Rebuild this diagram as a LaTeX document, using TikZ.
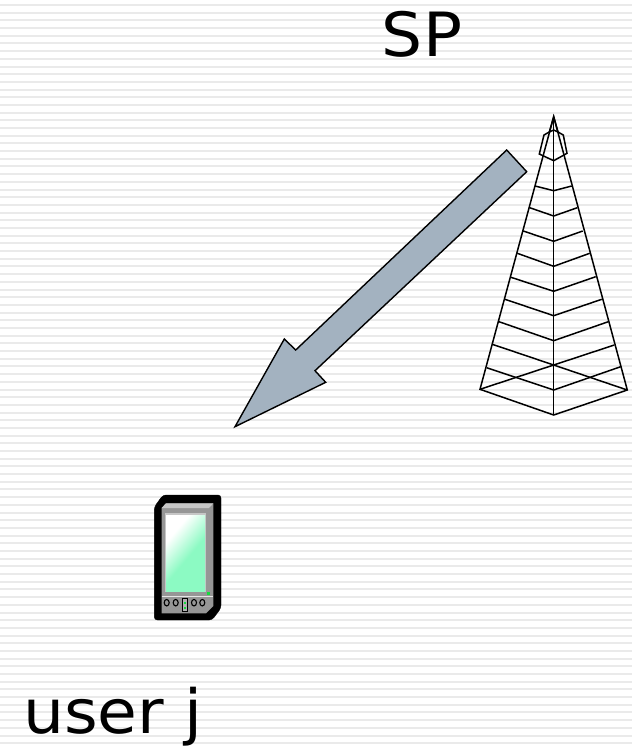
\documentclass[tikz,border=0pt]{standalone}
\usepackage{fontspec}
\setmainfont[FakeStretch=1.06]{DejaVu Sans}
\definecolor{stripecol}{RGB}{234,234,234}
\definecolor{arrowcol}{RGB}{163,178,192}
\definecolor{bodycol}{RGB}{150,150,150}
\definecolor{screencol}{RGB}{140,250,195}
\definecolor{ledcol}{RGB}{20,220,60}
\pgfdeclarehorizontalshading{screenshade}{100bp}{color(0bp)=(white); color(30bp)=(white); color(54bp)=(screencol); color(100bp)=(screencol)}
\tikzset{
  stripe/.style={stripecol, line width=2pt},
  tower/.style={black, line width=1.5pt, line join=miter},
  label/.style={inner sep=0pt, font=\fontsize{61}{61}\selectfont},
  knob/.style={draw=black, line width=1.1pt, fill=bodycol, minimum width=5pt, minimum height=6.5pt, inner sep=0pt, ellipse}
}
\usetikzlibrary{shapes.geometric}
\begin{document}
\begin{tikzpicture}[x=1pt, y=-1pt]
\useasboundingbox (0,0) rectangle (632,748);

% background stripes
\foreach \k in {0,...,96}
  \draw[stripe] (0, 5+7.69*\k) -- (632, 5+7.69*\k);

\node(sp)[label, anchor=base] at (422, 56.5) {SP};
\node(user)[label, anchor=base west] at (23, 733) {user j};

% arrow
\filldraw[fill=arrowcol, draw=black, line width=1.4pt, line join=miter]
  (506.7,150) -- (526.7,171.7) -- (315,370.7) -- (325.7,382.3)
  -- (235,426.7) -- (284.3,339) -- (295.7,350) -- cycle;

% tower
\coordinate(apex) at (553.7,116.7);
\coordinate(baseL) at (480,389.3);
\coordinate(baseR) at (627.3,390);
\coordinate(baseF) at (553.7,415);
\coordinate(back) at (553.7,365);
\draw[tower] (baseL) -- (apex) -- (baseR) -- (baseF) -- cycle;
\draw[tower] (apex) -- (baseF);
\draw[tower] (baseL) -- (back) -- (614.3,345);
\draw[tower] (baseR) -- (back) -- (492.3,344.3);
\draw[tower] (486.7,367.7) -- (553.7,390) -- (620.7,366.7);
\draw[tower] (499,321.7) -- (553.7,340.7) -- (608.3,321.7);
\draw[tower] (505,299.3) -- (553.7,315.7) -- (601.7,299.3);
\draw[tower] (511,277.3) -- (553.7,291.3) -- (595.7,276.7);
\draw[tower] (517.3,253.3) -- (553.7,266.3) -- (589.7,253.3);
\draw[tower] (523.3,231) -- (553.7,241.3) -- (582.7,231);
\draw[tower] (529.7,207.7) -- (553.7,216) -- (577.3,207.7);
\draw[tower] (535,186) -- (553.7,190.7) -- (571.7,186);
% tower tip
\draw[tower] (539.3,154) -- (544,135) -- (549.3,132) -- (553.7,116.7)
  -- (558,132) -- (563.3,135) -- (567,153.3) -- (553.7,160.7) -- cycle;
\draw[tower] (549.3,132) -- (553.7,130) -- (558,132);

% phone
\filldraw[black, rounded corners=3pt] (163,495) -- (221,495) -- (221,608) -- (212,620)
  -- (154.3,620) -- (154.3,507) -- cycle;
\fill[bodycol] (161.7,508) -- (166,503.3) -- (213.3,503.3) -- (213.3,606) -- (206,613.3) -- (161.7,613.3) -- cycle;
\fill[white!78!black] (166,503.3) -- (213.3,503.3) -- (209,508) -- (161.7,508) -- cycle;
\fill[gray!45!white] (165.3,512.5) rectangle (206,592);
\shade[shading=screenshade, shading angle=-40] (166,515.7) rectangle (205,591);
\fill[ledcol] (207,592) rectangle (210,594.5);
\draw[white!80!gray, line width=0.7pt] (161.7,596) -- (213.3,596);
\node(k1)[knob] at (166.7,602.7) {};
\node(k2)[knob] at (175.7,602.7) {};
\node(k3)[knob] at (194,602.7) {};
\node(k4)[knob] at (202.3,602.7) {};
\node(k0)[draw=black, line width=1.1pt, fill=gray!60!white, minimum width=5pt, minimum height=13pt, inner sep=0pt] at (185,605) {};
\fill[ledcol] (184.3,601.5) rectangle (185.7,603.5);
\fill[ledcol] (184.3,606.5) rectangle (185.7,608.5);
\end{tikzpicture}
\end{document}
